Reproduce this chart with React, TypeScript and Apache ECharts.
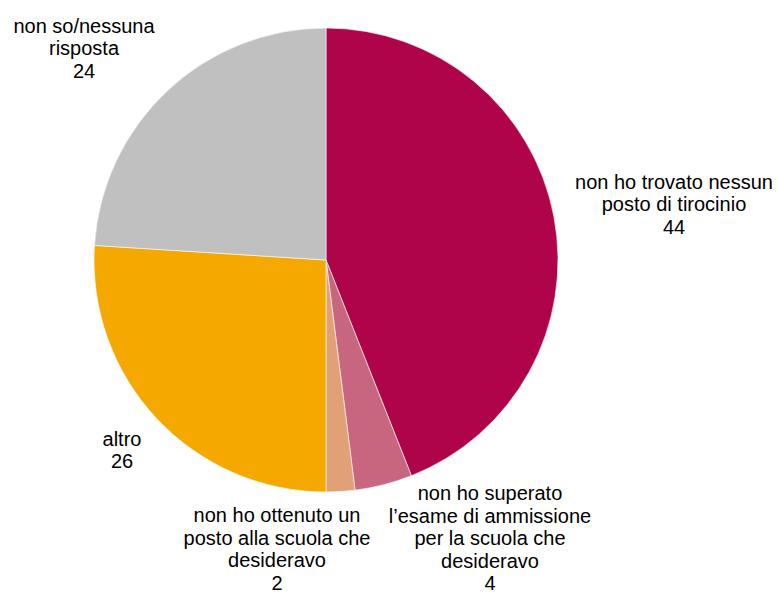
import React, { useEffect, useRef } from "react";
import * as echarts from "echarts";

const categories = [
  "non ho trovato nessun\nposto di tirocinio",
  "non ho superato\nl’esame di ammissione\nper la scuola che\ndesideravo",
  "non ho ottenuto un\nposto alla scuola che\ndesideravo",
  "altro",
  "non so/nessuna\nrisposta",
];
const values = [44, 4, 2, 26, 24];
const colors = ["#B0044A", "#C86680", "#E2A076", "#F5A800", "#C0C0C0"];
const labelCenters: [number, number][] = [
  [674, 204],
  [490, 538],
  [277, 549],
  [122, 450],
  [84, 48],
];

export default function App() {
  const ref = useRef<HTMLDivElement>(null);
  useEffect(() => {
    if (!ref.current) return;
    const chart = echarts.init(ref.current, undefined, { renderer: "svg" });
    chart.setOption({
      animation: false,
      backgroundColor: "#ffffff",
      series: [
        {
          type: "pie",
          center: [326, 260],
          radius: [0, 232],
          startAngle: 90,
          clockwise: true,
          avoidLabelOverlap: false,
          itemStyle: { borderColor: "#ffffff", borderWidth: 0.6 },
          label: {
            show: true,
            position: "outside",
            formatter: "{b}\n{c}",
            fontFamily: "'Liberation Sans', Arial, sans-serif",
            fontSize: 20,
            lineHeight: 22.5,
            color: "#000000",
            align: "center",
            overflow: "none",
            width: 400,
          },
          labelLine: { show: false },
          labelLayout: (p: any) => ({
            x: labelCenters[p.dataIndex][0],
            y: labelCenters[p.dataIndex][1],
            align: "center",
            verticalAlign: "middle",
          }),
          emphasis: { disabled: true },
          data: categories.map((name, i) => ({
            name,
            value: values[i],
            itemStyle: { color: colors[i] },
          })),
        },
      ],
    });
    return () => chart.dispose();
  }, []);
  return (
    <div
      ref={ref}
      style={{ position: "fixed", left: 0, top: 0, width: 778, height: 593 }}
    />
  );
}
